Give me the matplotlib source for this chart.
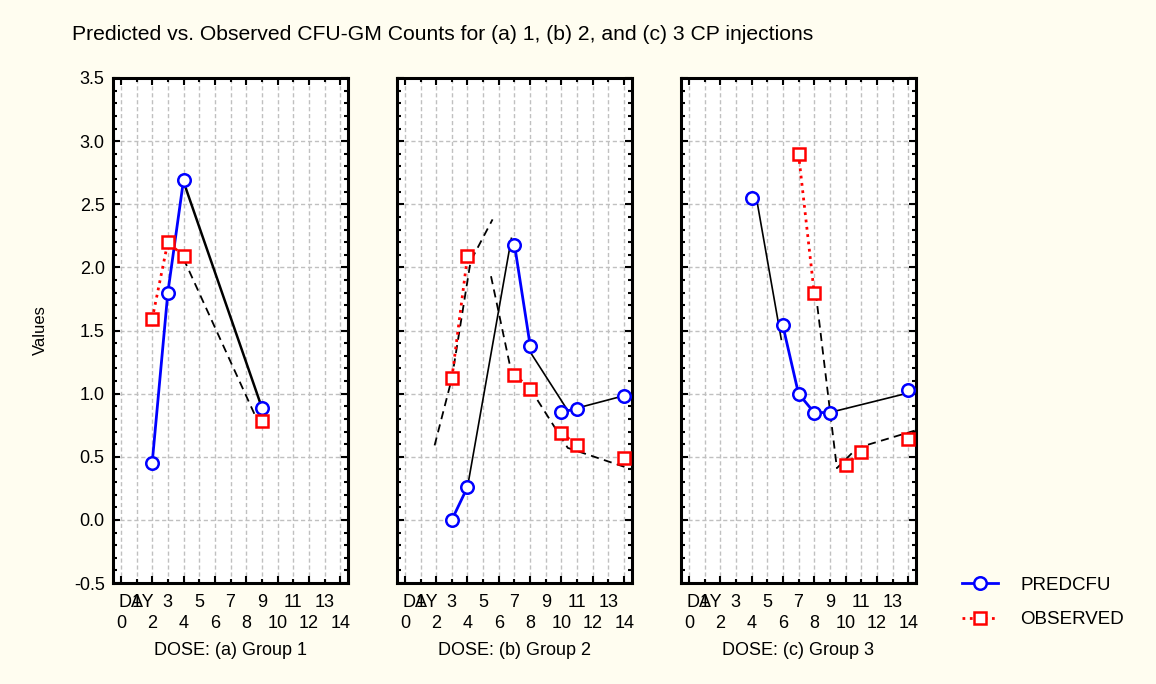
import numpy as np
import matplotlib.pyplot as plt
from matplotlib.lines import Line2D
from matplotlib.transforms import offset_copy

plt.rcParams['font.family'] = ['Liberation Sans', 'DejaVu Sans']

nan = np.nan
days = np.arange(15)

# observed-day series, NaN where no measurement (breaks the connecting line)
pred_g1 = [nan, nan, 0.45, 1.80, 2.69, nan, nan, nan, nan, 0.89, nan, nan, nan, nan, nan]
obs_g1 = [nan, nan, 1.59, 2.20, 2.09, nan, nan, nan, nan, 0.78, nan, nan, nan, nan, nan]
pred_g2 = [nan, nan, nan, 0.00, 0.26, nan, nan, 2.18, 1.38, nan, 0.855, 0.88, nan, nan, 0.98]
obs_g2 = [nan, nan, nan, 1.12, 2.09, nan, nan, 1.15, 1.04, nan, 0.69, 0.59, nan, nan, 0.49]
pred_g3 = [nan, nan, nan, nan, 2.55, nan, 1.54, 1.00, 0.85, 0.85, nan, nan, nan, nan, 1.03]
obs_g3 = [nan, nan, nan, nan, nan, nan, nan, 2.90, 1.80, nan, 0.435, 0.54, nan, nan, 0.64]

# model curves (black), NaN separates pieces
fit_pred_x = [[4, 9],
              [4, 6.8, nan, 8, 10.4, 14.5],
              [4.3, 5.9, nan, 9.3, 14.5]]
fit_pred_y = [[2.68, 0.89],
              [0.26, 2.23, nan, 1.33, 0.866, 1.00],
              [2.56, 1.43, nan, 0.86, 1.02]]
fit_obs_x = [[4, 9],
             [1.9, 3, 4.2, 5.6, nan, 5.5, 6.8, nan, 8, 10.4, 14.5],
             [8.1, 9.45, 10.75, 14.5]]
fit_obs_y = [[2.07, 0.71],
             [0.59, 1.12, 2.05, 2.38, nan, 1.93, 1.17, nan, 1.04, 0.57, 0.40],
             [1.80, 0.41, 0.57, 0.71]]

preds = [pred_g1, pred_g2, pred_g3]
obss = [obs_g1, obs_g2, obs_g3]
group_labels = ['DOSE: (a) Group 1', 'DOSE: (b) Group 2', 'DOSE: (c) Group 3']
fit_lw = [1.8, 1.2, 1.2]

W, H = 1156, 684
fig = plt.figure(figsize=(W / 100, H / 100), dpi=100, facecolor='#fffdf0')

fs = 13
minor_pad = 8
lefts = [113, 397, 681]
for i, left in enumerate(lefts):
    ax = fig.add_axes([left / W, 1 - 583 / H, 235 / W, 505 / H])
    ax.set_facecolor('white')
    ax.set_xlim(-0.5, 14.5)
    ax.set_ylim(-0.5, 3.5)

    ax.plot(fit_pred_x[i], fit_pred_y[i], color='black', lw=fit_lw[i], zorder=3)
    ax.plot(fit_obs_x[i], fit_obs_y[i], color='black', lw=1.3, dashes=(4.5, 3), zorder=3)
    ax.plot(days, preds[i], color='#0000ff', lw=2, marker='o', ms=9,
            mfc='white', mec='#0000ff', mew=1.8, zorder=4)
    ax.plot(days, obss[i], color='#ff0000', lw=2, ls=':', marker='s', ms=9,
            mfc='white', mec='#ff0000', mew=1.8, zorder=4)

    ax.set_xticks(days[::2], [str(d) for d in days[::2]])
    ax.set_xticks(days[1::2], [str(d) for d in days[1::2]], minor=True)
    ax.set_yticks(np.arange(-0.5, 3.51, 0.5))
    ax.set_yticks(np.arange(-0.5, 3.51, 0.1), minor=True)
    ax.set_yticklabels([f'{v:.1f}' for v in np.arange(-0.5, 3.51, 0.5)])

    ax.tick_params(which='both', direction='in', top=True, right=True,
                   width=1.5, labelsize=fs, colors='black')
    ax.tick_params(which='major', length=5)
    ax.tick_params(which='minor', length=3)
    ax.tick_params(axis='x', which='major', pad=23)
    ax.tick_params(axis='x', which='minor', pad=minor_pad)
    ax.tick_params(axis='y', pad=6)
    if i > 0:
        ax.tick_params(axis='y', labelleft=False)

    # the DAY caption sits in the odd-label row, over the "1"
    tr = offset_copy(ax.get_xaxis_transform(), fig=fig, x=0, y=-minor_pad, units='points')
    ax.text(1, 0, 'DAY', transform=tr, fontsize=fs, ha='center', va='top')

    ax.grid(which='major', color='#c0c0c0', lw=1, dashes=(3, 2))
    ax.grid(which='minor', axis='x', color='#c0c0c0', lw=1, dashes=(3, 2))
    ax.set_axisbelow(True)
    for s in ax.spines.values():
        s.set_linewidth(2.2)

    ax.set_xlabel(group_labels[i], fontsize=fs, labelpad=7)

fig.text(72 / W, 1 - 35 / H,
         'Predicted vs. Observed CFU-GM Counts for (a) 1, (b) 2, and (c) 3 CP injections',
         fontsize=15.2, ha='left', va='center')
fig.text(40 / W, 1 - 330 / H, 'Values', fontsize=12, rotation=90, ha='center', va='center')

handles = [Line2D([], [], color='#0000ff', lw=2, marker='o', ms=9, mfc='white',
                  mec='#0000ff', mew=1.8),
           Line2D([], [], color='#ff0000', lw=2, ls=':', marker='s', ms=9, mfc='white',
                  mec='#ff0000', mew=1.8)]
fig.legend(handles, ['PREDCFU', 'OBSERVED'], loc='upper left',
           bbox_to_anchor=(953 / W, 1 - 567 / H), frameon=False, fontsize=13.5,
           handlelength=1.9, handletextpad=1.2, labelspacing=0.95, borderpad=0)

fig.savefig('out.png', dpi=100, facecolor=fig.get_facecolor())
